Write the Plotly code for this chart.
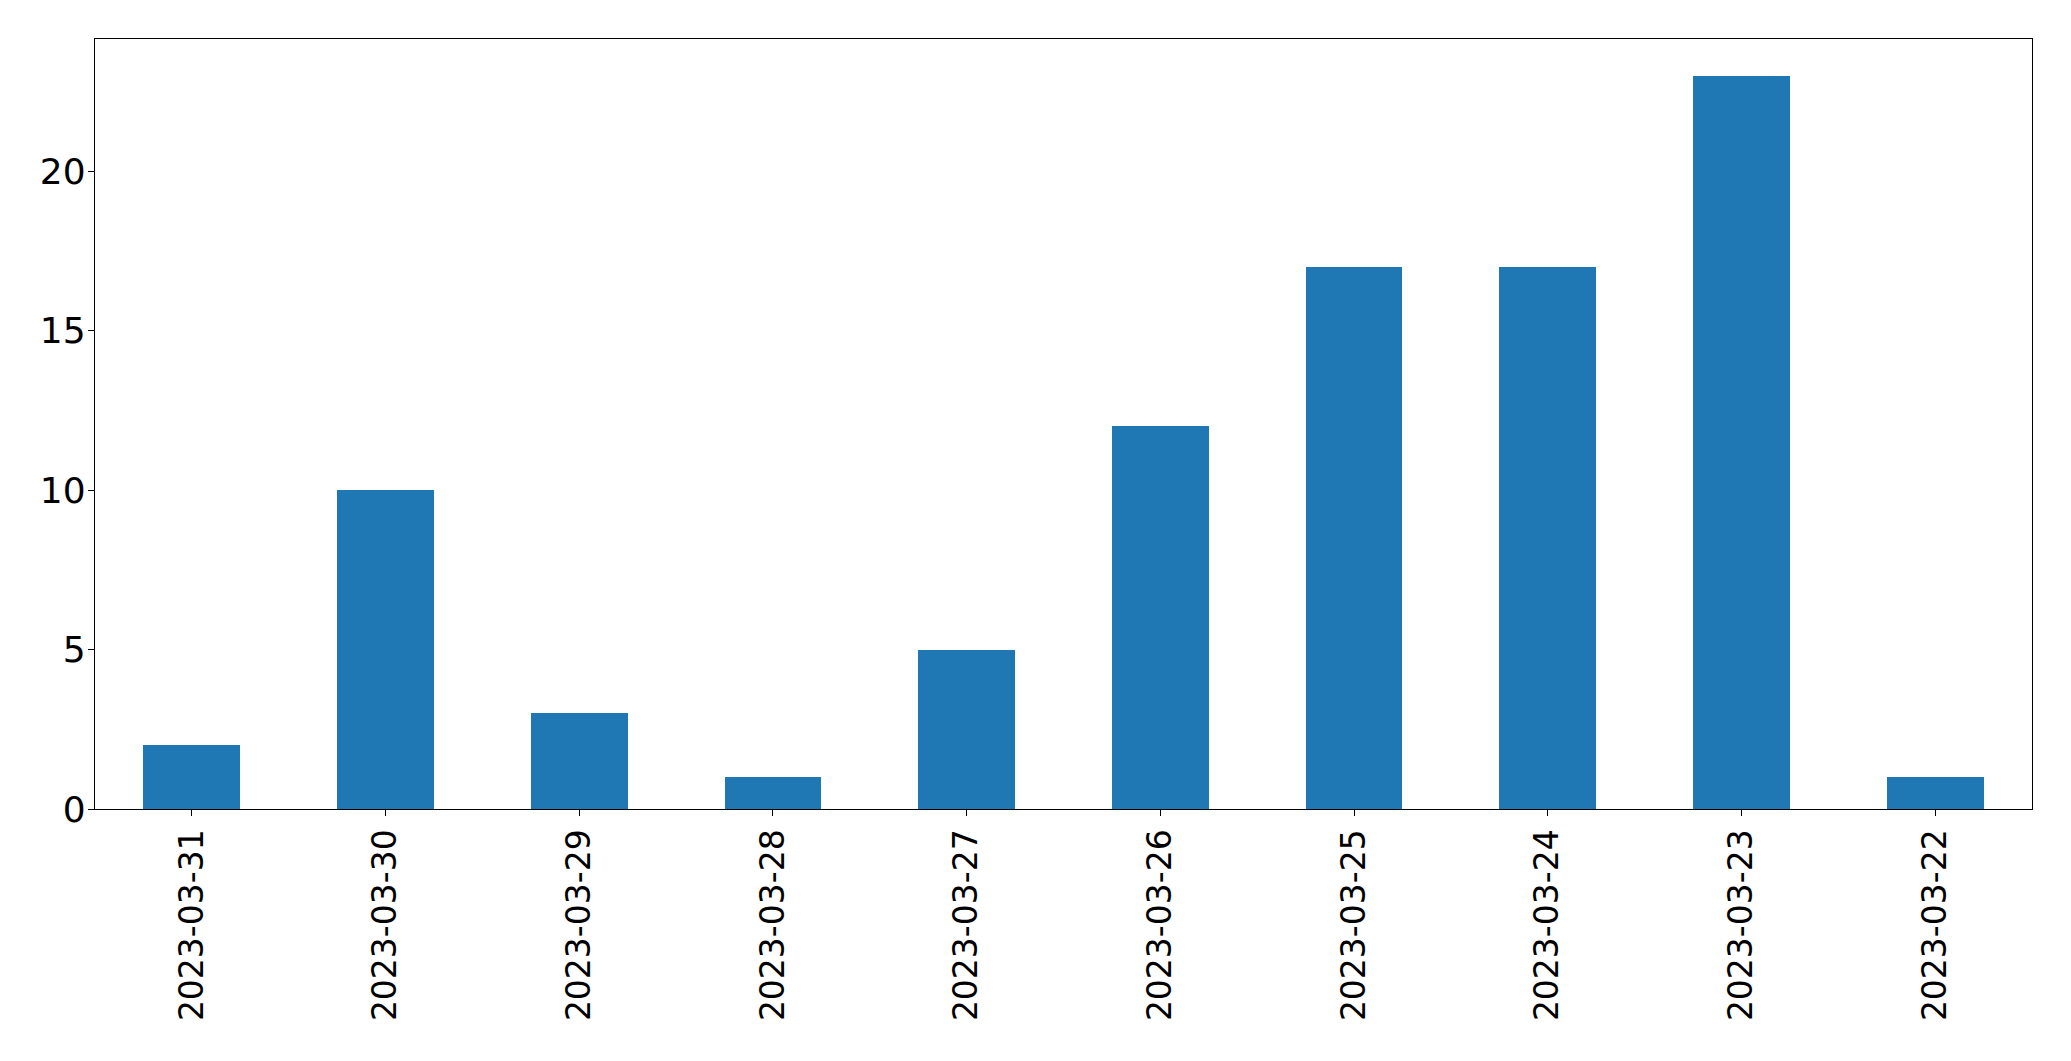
import plotly.graph_objects as go

dates = ["2023-03-31", "2023-03-30", "2023-03-29", "2023-03-28", "2023-03-27",
         "2023-03-26", "2023-03-25", "2023-03-24", "2023-03-23", "2023-03-22"]
counts = [2, 10, 3, 1, 5, 12, 17, 17, 23, 1]
y_ticks = [0, 5, 10, 15, 20]

fig = go.Figure()
fig.add_trace(go.Bar(x=dates, y=counts, width=0.5, marker=dict(color="#1f77b4", line=dict(width=0))))

fig.update_layout(
    width=2071, height=1061,
    margin=dict(l=95, r=39, t=39, b=252, pad=0),
    paper_bgcolor="white", plot_bgcolor="white",
    font=dict(family="DejaVu Sans", size=36, color="black"),
    showlegend=False,
    bargap=0,
)
fig.update_xaxes(
    type="category", range=[-0.5, 9.5], tickangle=-90,
    tickfont=dict(size=33),
    showline=True, linecolor="black", linewidth=1.3, mirror=True,
    ticks="outside", ticklen=6, tickwidth=1.3, tickcolor="black",
    showgrid=False, zeroline=False,
)
fig.update_yaxes(
    range=[0, 24.15], tickvals=y_ticks,
    tickfont=dict(size=36),
    showline=True, linecolor="black", linewidth=1.3, mirror=True,
    ticks="outside", ticklen=6, tickwidth=1.3, tickcolor="black",
    showgrid=False, zeroline=False, ticklabelstandoff=-5,
)
fig.write_html("out.html")
